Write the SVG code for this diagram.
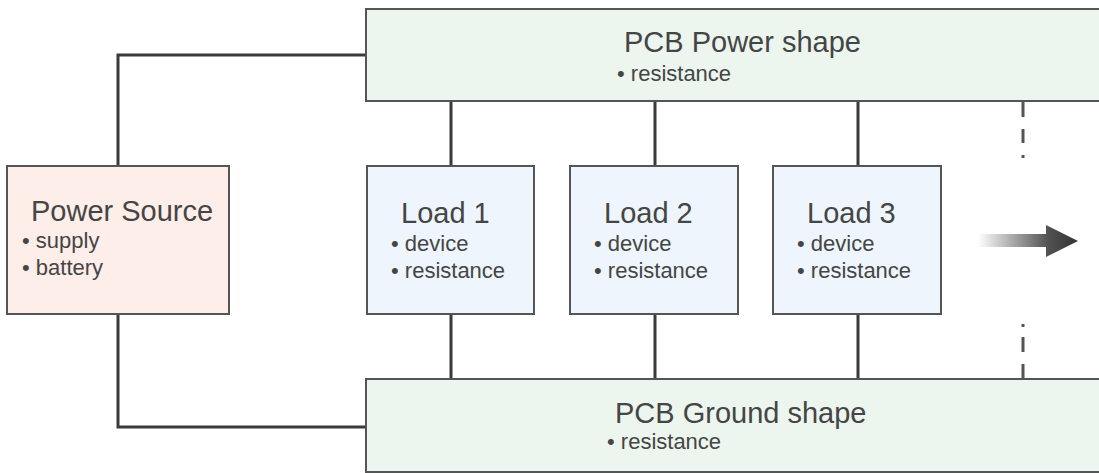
<svg xmlns="http://www.w3.org/2000/svg" width="1099" height="473" viewBox="0 0 1099 473">
<defs>
<style>
.box{stroke:#555;stroke-width:2}
.src{fill:#fdeee9}
.load{fill:#eef5fc}
.pcb{fill:#ecf5ee}
.wire{fill:none;stroke:#3a3a3a;stroke-width:3}
.dash{fill:none;stroke:#555;stroke-width:3}
.t{font-family:"Liberation Sans",Arial,sans-serif;fill:#454545}
.h{font-size:29px}
.b{font-size:22px}
</style>
<linearGradient id="ag" x1="978" y1="0" x2="1078" y2="0" gradientUnits="userSpaceOnUse">
<stop offset="0" stop-color="#333" stop-opacity="0"/>
<stop offset="0.7" stop-color="#333" stop-opacity="0.85"/>
<stop offset="1" stop-color="#333" stop-opacity="1"/>
</linearGradient>
</defs>
<rect width="1099" height="473" fill="#fff"/>
<g id="connectors">
<path class="wire" d="M366 55 H118 V166"/>
<path class="wire" d="M118 314 V427 H366"/>
<path class="wire" d="M451 101 V166 M655 101 V166 M858 101 V166"/>
<path class="wire" d="M451 314 V379 M655 314 V379 M858 314 V379"/>
<path class="dash" d="M1023 102 V117 M1023 129 V143 M1023 155 V158"/>
<path class="dash" d="M1023 324 V327 M1023 337 V352 M1023 364 V380"/>
</g>
<g id="pcb-power">
<rect class="box pcb" x="366" y="9" width="745" height="92"/>
<text class="t h" x="624" y="52">PCB Power shape</text>
<text class="t b" x="617" y="81">• resistance</text>
</g>
<g id="pcb-ground">
<rect class="box pcb" x="366" y="379" width="745" height="93"/>
<text class="t h" x="615" y="423">PCB Ground shape</text>
<text class="t b" x="607" y="449">• resistance</text>
</g>
<g id="power-source">
<rect class="box src" x="7" y="166" width="222" height="148"/>
<text class="t h" x="31" y="221">Power Source</text>
<text class="t b" x="22" y="248">• supply</text>
<text class="t b" x="22" y="275">• battery</text>
</g>
<g id="load1">
<rect class="box load" x="367" y="166" width="167" height="148"/>
<text class="t h" x="401" y="223">Load 1</text>
<text class="t b" x="391" y="251">• device</text>
<text class="t b" x="391" y="278">• resistance</text>
</g>
<g id="load2">
<rect class="box load" x="570" y="166" width="168" height="148"/>
<text class="t h" x="604" y="223">Load 2</text>
<text class="t b" x="594" y="251">• device</text>
<text class="t b" x="594" y="278">• resistance</text>
</g>
<g id="load3">
<rect class="box load" x="773" y="166" width="168" height="148"/>
<text class="t h" x="807" y="223">Load 3</text>
<text class="t b" x="797" y="251">• device</text>
<text class="t b" x="797" y="278">• resistance</text>
</g>
<g id="more-arrow">
<path fill="url(#ag)" d="M978 234 H1046 V225 L1078 241 L1046 257 V247 H978 Z"/>
</g>
</svg>
